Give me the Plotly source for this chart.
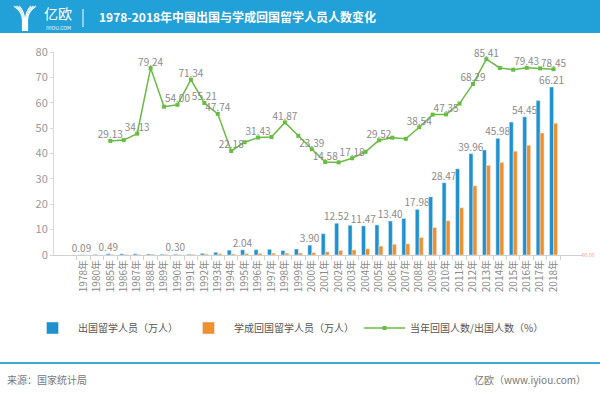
import plotly.graph_objects as go

W, H = 600, 400
def px(x): return x / W
def py(y): return 1 - y / H

years = ["1978年", "1980年"] + [f"{y}年" for y in range(1985, 2019)]

outbound = [0.086, 0.2124, 0.4888, 0.4676, 0.4703, 0.3786, 0.3329, 0.2952, 0.29, 0.654,
            1.0742, 1.9071, 2.0381, 2.0905, 2.241, 1.7622, 2.3749, 3.8989, 8.3973, 12.5179,
            11.7307, 11.4682, 11.8515, 13.40, 14.40, 17.98, 22.93, 28.47, 33.97, 39.96,
            41.39, 45.98, 52.37, 54.45, 60.84, 66.21]

returned = [0.0248, 0.0162, 0.1424, 0.1388, 0.1605, 0.30, 0.1753, 0.1593, 0.2069, 0.3611,
            0.5128, 0.423, 0.575, 0.657, 0.713, 0.7379, 0.7748, 0.9121, 1.2243, 1.7945,
            2.0152, 2.4726, 3.4987, 4.20, 4.40, 6.93, 10.83, 13.48, 18.62, 27.29,
            35.35, 36.48, 40.91, 43.25, 48.09, 51.94]

ratio = [None, None, 29.13, 29.68, 34.13, 79.24, 52.66, 54.00, 71.34, 55.21,
         47.74, 22.18, 28.21, 31.43, 31.82, 41.87, 32.62, 23.39, 14.58, 14.34,
         17.18, 21.56, 29.52, 31.34, 30.56, 38.54, 47.23, 47.35, 54.81, 68.29,
         85.41, 79.34, 78.12, 79.43, 79.04, 78.45]

bar_label_years = ["1978年", "1985年", "1990年", "1995年", "2000年", "2002年", "2004年",
                   "2006年", "2008年", "2010年", "2012年", "2014年", "2016年", "2018年"]
line_label_years = ["1985年", "1987年", "1988年", "1990年", "1991年", "1992年", "1993年",
                    "1994年", "1996年", "1998年", "2000年", "2001年", "2003年", "2005年",
                    "2008年", "2010年", "2012年", "2013年", "2016年", "2018年"]

BLUE = "#1E91CF"
ORANGE = "#F0902C"
GREEN = "#68BC42"
HEAD = "#22A0D8"
FONT = "Noto Sans CJK SC, Noto Sans, sans-serif"

bar_text = [f"{v:.2f}" if y in bar_label_years else "" for y, v in zip(years, outbound)]
lab_x = [y for y, v in zip(years, ratio) if y in line_label_years and v is not None]
lab_y = [v for y, v in zip(years, ratio) if y in line_label_years and v is not None]

fig = go.Figure()
fig.add_trace(go.Bar(x=years, y=outbound, name="出国留学人员（万人）", marker_color=BLUE,
                     text=bar_text, textposition="outside", constraintext="none",
                     cliponaxis=False, textfont=dict(size=10, color="#8a8a8a", family=FONT)))
fig.add_trace(go.Bar(x=years, y=returned, name="学成回国留学人员（万人）", marker_color=ORANGE))
fig.add_trace(go.Scatter(x=years, y=ratio, name="当年回国人数/出国人数（%）", yaxis="y2",
                         mode="lines+markers", cliponaxis=False,
                         line=dict(color=GREEN, width=1.5),
                         marker=dict(color=GREEN, size=4, symbol="square")))
fig.add_trace(go.Scatter(x=lab_x, y=lab_y, yaxis="y2", mode="text",
                         text=[f"{v:.2f}" for v in lab_y], textposition="top center",
                         cliponaxis=False, showlegend=False, hoverinfo="skip",
                         textfont=dict(size=10, color="#8a8a8a", family=FONT)))

shapes = [
    dict(type="rect", xref="paper", yref="paper", x0=0, x1=1, y0=py(33), y1=1,
         fillcolor=HEAD, line=dict(width=0), layer="below"),
    dict(type="line", xref="paper", yref="paper", x0=px(83), x1=px(83), y0=py(9), y1=py(27),
         line=dict(color="white", width=1)),
    dict(type="line", xref="paper", yref="paper", x0=0, x1=1, y0=py(363), y1=py(363),
         line=dict(color="#3AA9DC", width=2)),
]
for off in [0, 2.5, 5]:
    xl = 14 + off
    xr = 36 - off
    xm = 22.5 + off * 0.4
    xm2 = 27.5 - off * 0.4
    shapes.append(dict(type="path", xref="paper", yref="paper",
                       path=f"M {px(xl)} {py(6)} Q {px(xm)} {py(12)} {px(xm)} {py(20)} L {px(xm)} {py(31)}",
                       line=dict(color="white", width=1.2)))
    shapes.append(dict(type="path", xref="paper", yref="paper",
                       path=f"M {px(xr)} {py(6)} Q {px(xm2)} {py(12)} {px(xm2)} {py(20)} L {px(xm2)} {py(31)}",
                       line=dict(color="white", width=1.2)))

annotations = [
    dict(text="亿欧", x=px(58), y=py(13), xref="paper", yref="paper", showarrow=False,
         font=dict(size=14, color="white", family=FONT), xanchor="center", yanchor="middle"),
    dict(text="IYIOU.COM", x=px(58), y=py(27), xref="paper", yref="paper", showarrow=False,
         font=dict(size=5, color="white", family=FONT), xanchor="center", yanchor="middle"),
    dict(text="<b>1978-2018年中国出国与学成回国留学人员人数变化</b>", x=px(97), y=py(17),
         xref="paper", yref="paper", showarrow=False, xanchor="left", yanchor="middle",
         font=dict(size=12, color="white", family=FONT)),
    dict(text="00.00", x=px(588), y=py(255), xref="paper", yref="paper", showarrow=False,
         xanchor="center", yanchor="middle", font=dict(size=5, color="#F19A9A", family=FONT)),
    dict(text="来源：国家统计局", x=px(5), y=py(379), xref="paper", yref="paper", showarrow=False,
         xanchor="left", yanchor="middle", font=dict(size=10, color="#777777", family=FONT)),
    dict(text="亿欧（www.iyiou.com）", x=px(588), y=py(379), xref="paper", yref="paper",
         showarrow=False, xanchor="right", yanchor="middle",
         font=dict(size=10, color="#777777", family=FONT)),
]

fig.update_layout(
    width=W, height=H, margin=dict(l=0, r=0, t=0, b=0, autoexpand=False),
    paper_bgcolor="white", plot_bgcolor="white",
    font=dict(family=FONT, color="#888888"),
    barmode="group", bargap=0.41, bargroupgap=0,
    xaxis=dict(domain=[px(54), px(583)], tickangle=-90, tickfont=dict(size=10, color="#8a8a8a"),
               showline=True, linecolor="#d0d0d0", ticks="outside", ticklen=4,
               tickcolor="#d0d0d0", tickson="boundaries", showgrid=False, automargin=False),
    yaxis=dict(domain=[py(255), py(52)], range=[0, 80], dtick=10, showgrid=False,
               zeroline=False, showline=True, linecolor="#d8d8d8", ticks="outside",
               ticklen=3, tickcolor="#d8d8d8", tickfont=dict(size=11, color="#999999"),
               automargin=False),
    yaxis2=dict(overlaying="y", range=[-49.4, 90.3], visible=False, automargin=False),
    legend=dict(orientation="h", x=px(27), y=py(328), xanchor="left", yanchor="middle",
                font=dict(size=10, color="#555555", family=FONT), itemwidth=41,
                bgcolor="rgba(0,0,0,0)"),
    shapes=shapes, annotations=annotations,
)

fig.write_html("out.html", config={"displayModeBar": False},
               post_script="document.body.style.margin='0';document.body.style.padding='0';")
